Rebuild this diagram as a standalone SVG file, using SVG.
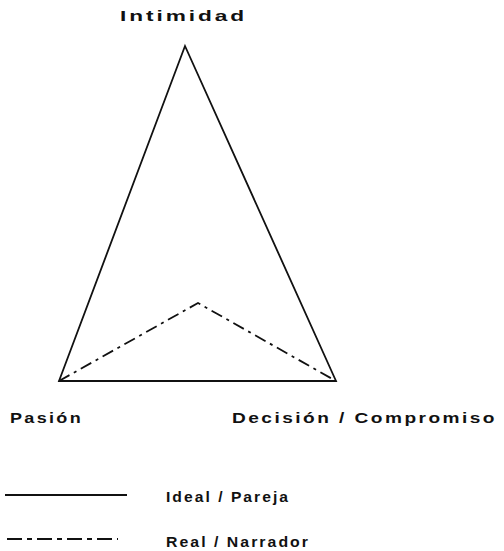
<svg xmlns="http://www.w3.org/2000/svg" width="504" height="551" viewBox="0 0 504 551">
<style>
text{font-family:"Liberation Sans",Arial,sans-serif;font-size:15.5px;font-weight:bold;fill:#111;letter-spacing:2px}
.solid{fill:none;stroke:#111;stroke-width:1.8}
.dash{fill:none;stroke:#111;stroke-width:1.8;stroke-dasharray:12,5,3,5}
.ldash{fill:none;stroke:#111;stroke-width:1.8;stroke-dasharray:15,5,5,5}
</style>
<rect width="504" height="551" fill="#fff"/>
<g id="connectors">
<polygon class="solid" points="185,46 336,381 59,381"/>
<polyline class="dash" points="59,381 198,303 336,381"/>
</g>
<g id="intimidad"><text x="120" y="21" textLength="127" lengthAdjust="spacingAndGlyphs">Intimidad</text></g>
<g id="pasion"><text x="10" y="423" textLength="73" lengthAdjust="spacingAndGlyphs">Pasión</text></g>
<g id="decision"><text x="232" y="423" textLength="265" lengthAdjust="spacingAndGlyphs">Decisión / Compromiso</text></g>
<g id="legend">
<line class="solid" x1="5" y1="495" x2="127" y2="495"/>
<line class="ldash" x1="7" y1="539" x2="118" y2="539"/>
<text x="166" y="502" textLength="124" lengthAdjust="spacingAndGlyphs">Ideal / Pareja</text>
<text x="166" y="547" textLength="144" lengthAdjust="spacingAndGlyphs">Real / Narrador</text>
</g>
</svg>
